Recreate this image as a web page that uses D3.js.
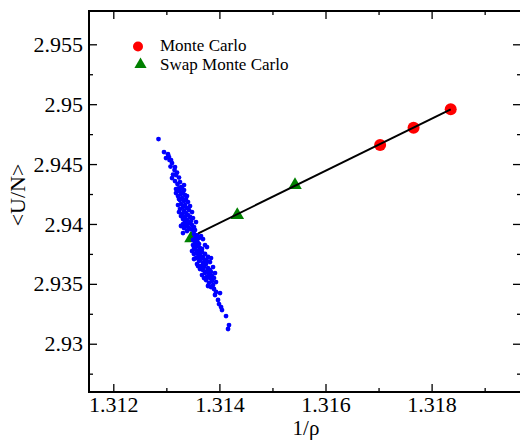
<!DOCTYPE html>
<html>
<head>
<meta charset="utf-8">
<script src="https://cdn.jsdelivr.net/npm/d3@7"></script>
<style>
  html, body { margin: 0; padding: 0; background: #fff; }
  svg { display: block; }
  text { font-family: "Liberation Serif", "Times New Roman", serif; fill: #000; }
</style>
</head>
<body>
<svg id="chart" width="520" height="441"></svg>
<script>
// Monte Carlo runs
const mcX = [1.31703, 1.31766, 1.31836];
const mcY = [2.94659, 2.94803, 2.94957];

// Swap Monte Carlo runs
const swapX = [1.313465, 1.314337, 1.315425];
const swapY = [2.938798, 2.940743, 2.943247];

// Straight line through the runs
const fitX = [1.313602, 1.31836];
const fitY = [2.939215, 2.94957];

// Instantaneous samples (1/rho, U/N)
const cloudX = [
  1.312852, 1.312956, 1.313031, 1.313050, 1.313060, 1.313107, 1.313079, 1.313163, 1.313154, 1.313201,
  1.313126, 1.313238, 1.313257, 1.313210, 1.313295, 1.313229, 1.313276,
  1.313238, 1.313314, 1.313276, 1.313352, 1.313220, 1.313295, 1.313370, 1.313257, 1.313333, 1.313408,
  1.313276, 1.313352, 1.313314, 1.313389, 1.313257, 1.313427, 1.313333, 1.313370, 1.313295, 1.313408,
  1.313352, 1.313446, 1.313314, 1.313389, 1.313465, 1.313352, 1.313427, 1.313370, 1.313484, 1.313408,
  1.313333, 1.313446, 1.313502, 1.313389, 1.313540, 1.313578, 1.313521, 1.313314, 1.313653, 1.313616,
  1.313540, 1.313559, 1.313502, 1.313578,
  1.313597, 1.313540, 1.313616, 1.313502, 1.313578, 1.313521, 1.313634, 1.313559, 1.313484, 1.313616,
  1.313672, 1.313578, 1.313521, 1.313634, 1.313597, 1.313691, 1.313559, 1.313653, 1.313729, 1.313616,
  1.313823, 1.313691, 1.313578, 1.313748, 1.313653, 1.313710, 1.313785, 1.313634, 1.313691, 1.313766,
  1.313842, 1.313729, 1.313804, 1.313672, 1.313861, 1.313766, 1.313823, 1.313898, 1.313748, 1.313861,
  1.313804, 1.313880, 1.313842,
  1.313936, 1.314012, 1.313917, 1.313974, 1.313993, 1.314031, 1.314049, 1.314125, 1.314181, 1.314163,
  1.313182, 1.313333, 1.313389, 1.313238, 1.313446, 1.313220, 1.313484, 1.313276, 1.313502, 1.313238,
  1.313314, 1.313521, 1.313559, 1.313276, 1.313691, 1.313729, 1.313672, 1.313540, 1.313766, 1.313729,
  1.313785, 1.313521, 1.313842, 1.313766, 1.313880, 1.313597, 1.313823, 1.313917, 1.313710, 1.313936,
  1.313785, 1.313898, 1.313088, 1.312993, 1.313182, 1.313107, 1.313163, 1.313333, 1.313182
];
const cloudY = [
  2.94709, 2.94600, 2.94583, 2.94558, 2.94533, 2.94508, 2.94479, 2.94475, 2.94450, 2.94429,
  2.94412, 2.94387, 2.94350, 2.94333, 2.94296, 2.94296, 2.94308,
  2.94275, 2.94266, 2.94250, 2.94241, 2.94233, 2.94216, 2.94208, 2.94200, 2.94191, 2.94183,
  2.94166, 2.94158, 2.94141, 2.94133, 2.94124, 2.94116, 2.94108, 2.94091, 2.94083, 2.94074,
  2.94058, 2.94058, 2.94041, 2.94033, 2.94024, 2.94016, 2.94008, 2.93991, 2.93991, 2.93974,
  2.93966, 2.93958, 2.93949, 2.93941, 2.93949, 2.93907, 2.93916, 2.93924, 2.93899, 2.93882,
  2.93882, 2.93866, 2.93866, 2.93857,
  2.93840, 2.93840, 2.93832, 2.93824, 2.93815, 2.93799, 2.93799, 2.93782, 2.93774, 2.93774,
  2.93765, 2.93757, 2.93749, 2.93740, 2.93724, 2.93724, 2.93715, 2.93707, 2.93699, 2.93690,
  2.93682, 2.93674, 2.93665, 2.93665, 2.93648, 2.93640, 2.93632, 2.93624, 2.93615, 2.93607,
  2.93598, 2.93590, 2.93582, 2.93573, 2.93565, 2.93557, 2.93548, 2.93548, 2.93532, 2.93523,
  2.93507, 2.93490, 2.93473,
  2.93432, 2.93423, 2.93407, 2.93365, 2.93331, 2.93306, 2.93281, 2.93231, 2.93156, 2.93123,
  2.94258, 2.94283, 2.94233, 2.94208, 2.94149, 2.94158, 2.94099, 2.94066, 2.94049, 2.94099,
  2.93999, 2.93974, 2.94016, 2.93983, 2.93874, 2.93824, 2.93791, 2.93807, 2.93807, 2.93749,
  2.93724, 2.93707, 2.93715, 2.93690, 2.93640, 2.93649, 2.93615, 2.93590, 2.93548, 2.93515,
  2.93482, 2.93457, 2.94533, 2.94550, 2.94408, 2.94383, 2.94358, 2.94325, 2.94291
];

// Axis ticks
const xTicks = [1.312, 1.314, 1.316, 1.318];
const xTickLabels = ["1.312", "1.314", "1.316", "1.318"];
const xMinor = [1.313, 1.315, 1.317, 1.319];
const yTicks = [2.93, 2.935, 2.94, 2.945, 2.95, 2.955];
const yTickLabels = ["2.93", "2.935", "2.94", "2.945", "2.95", "2.955"];
const yMinor = [2.9275, 2.9325, 2.9375, 2.9425, 2.9475, 2.9525];

const seriesNames = ["Monte Carlo", "Swap Monte Carlo"];

const svg = d3.select("#chart");
const plotLeft = 89, plotRight = 521, plotTop = 11, plotBottom = 392;

const x = d3.scaleLinear().domain([1.311542, 1.319685]).range([plotLeft, plotRight]);
const y = d3.scaleLinear().domain([2.92597, 2.95778]).range([plotBottom, plotTop]);

// frame
svg.append("rect")
  .attr("x", plotLeft).attr("y", plotTop)
  .attr("width", plotRight - plotLeft).attr("height", plotBottom - plotTop)
  .attr("fill", "none").attr("stroke", "#000").attr("stroke-width", 2);

const fontSize = 22;
function styleAxis(g) {
  g.select(".domain").remove();
  g.attr("font-family", "Liberation Serif, Times New Roman, serif");
  g.selectAll(".tick line").attr("stroke", "#000").attr("stroke-width", 1.3);
  g.selectAll("text").attr("font-size", fontSize).attr("fill", "#000");
}

// bottom axis (inward ticks)
svg.append("g").attr("transform", `translate(0,${plotBottom})`)
  .call(d3.axisBottom(x).tickValues(xTicks).tickSize(-8).tickPadding(4)
    .tickFormat((d, i) => xTickLabels[i]))
  .call(styleAxis);
svg.append("g").attr("transform", `translate(0,${plotBottom})`)
  .call(d3.axisBottom(x).tickValues(xMinor).tickSize(-4).tickFormat(""))
  .call(styleAxis);
// top axis
svg.append("g").attr("transform", `translate(0,${plotTop})`)
  .call(d3.axisTop(x).tickValues(xTicks).tickSize(-8).tickFormat(""))
  .call(styleAxis);
svg.append("g").attr("transform", `translate(0,${plotTop})`)
  .call(d3.axisTop(x).tickValues(xMinor).tickSize(-4).tickFormat(""))
  .call(styleAxis);
// left axis
svg.append("g").attr("transform", `translate(${plotLeft},0)`)
  .call(d3.axisLeft(y).tickValues(yTicks).tickSize(-8).tickPadding(6)
    .tickFormat((d, i) => yTickLabels[i]))
  .call(styleAxis);
svg.append("g").attr("transform", `translate(${plotLeft},0)`)
  .call(d3.axisLeft(y).tickValues(yMinor).tickSize(-4).tickFormat(""))
  .call(styleAxis);
// right axis
svg.append("g").attr("transform", `translate(${plotRight},0)`)
  .call(d3.axisRight(y).tickValues(yTicks).tickSize(-8).tickFormat(""))
  .call(styleAxis);
svg.append("g").attr("transform", `translate(${plotRight},0)`)
  .call(d3.axisRight(y).tickValues(yMinor).tickSize(-4).tickFormat(""))
  .call(styleAxis);

// axis titles
svg.append("text")
  .attr("x", (plotLeft + plotRight) / 2 + 1).attr("y", 435)
  .attr("text-anchor", "middle").attr("font-size", 21)
  .text("1/ρ");
svg.append("text")
  .attr("transform", "translate(25,195) rotate(-90)")
  .attr("text-anchor", "middle").attr("font-size", 22)
  .text("<U/N>");

const plot = svg.append("g");
const tri = d3.symbol().type(d3.symbolTriangle).size(80);

// Swap Monte Carlo markers
plot.selectAll("path.swap").data(swapX).join("path")
  .attr("class", "swap")
  .attr("d", tri)
  .attr("transform", (d, i) => `translate(${x(d)},${y(swapY[i])})`)
  .attr("fill", "#008000");

// Monte Carlo markers
plot.selectAll("circle.mc").data(mcX).join("circle")
  .attr("class", "mc")
  .attr("cx", d => x(d)).attr("cy", (d, i) => y(mcY[i]))
  .attr("r", 6).attr("fill", "#ff0000");

// sample cloud
plot.selectAll("circle.cloud").data(cloudX).join("circle")
  .attr("class", "cloud")
  .attr("cx", d => x(d)).attr("cy", (d, i) => y(cloudY[i]))
  .attr("r", 2.4).attr("fill", "#0000ff");

// line
plot.append("path")
  .datum(fitX.map((d, i) => [d, fitY[i]]))
  .attr("d", d3.line().x(d => x(d[0])).y(d => y(d[1])))
  .attr("fill", "none").attr("stroke", "#000").attr("stroke-width", 2);

// legend
const legend = svg.append("g");
legend.append("circle").attr("cx", 138).attr("cy", 46.5).attr("r", 5).attr("fill", "#ff0000");
legend.append("path").attr("d", d3.symbol().type(d3.symbolTriangle).size(64))
  .attr("transform", "translate(140.5,64.5)").attr("fill", "#008000");
legend.selectAll("text.lg").data(seriesNames).join("text")
  .attr("class", "lg")
  .attr("x", 160).attr("y", (d, i) => 51 + i * 19)
  .attr("font-size", 17)
  .text(d => d);
</script>
</body>
</html>
